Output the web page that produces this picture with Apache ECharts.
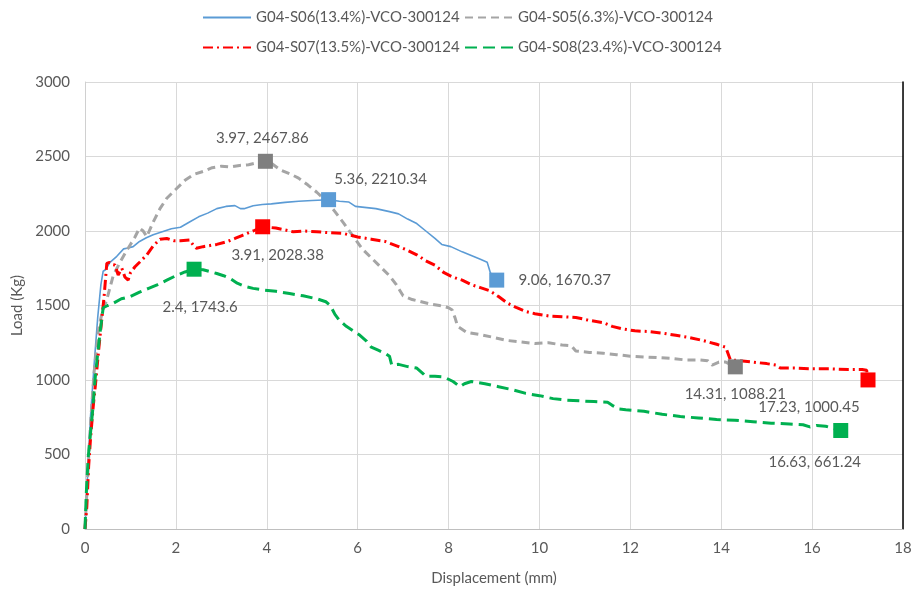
<!DOCTYPE html>
<html>
<head>
<meta charset="utf-8">
<script src="https://cdn.jsdelivr.net/npm/echarts@6/dist/echarts.min.js"></script>
<style>
  html, body { margin: 0; padding: 0; background: #ffffff; }
  #chart { width: 917px; height: 592px; }
</style>
</head>
<body>
<div id="chart"></div>
<script>
// Specimen names
const specimenNames = [
  'G04-S06(13.4%)-VCO-300124',
  'G04-S05(6.3%)-VCO-300124',
  'G04-S07(13.5%)-VCO-300124',
  'G04-S08(23.4%)-VCO-300124'
];

// Axis ticks
const dispTicks = [0, 2, 4, 6, 8, 10, 12, 14, 16, 18];
const loadTicks = [0, 500, 1000, 1500, 2000, 2500, 3000];

// G04-S06 load–displacement curve
const s06Disp = [0, 0.05, 0.12, 0.2, 0.28, 0.35, 0.4, 0.45, 0.55, 0.7, 0.85, 0.95, 1.06, 1.2, 1.35, 1.5, 1.7, 1.9, 2.1, 2.3, 2.5, 2.7, 2.9, 3.1, 3.3, 3.42, 3.5, 3.7, 3.9, 4.1, 4.4, 4.7, 5.0, 5.36, 5.6, 5.8, 5.95, 6.1, 6.4, 6.7, 6.9, 7.1, 7.3, 7.5, 7.7, 7.85, 8.05, 8.3, 8.5, 8.7, 8.85, 8.92, 9.0, 9.06];
const s06Load = [0, 320, 750, 1100, 1420, 1640, 1730, 1740, 1790, 1830, 1880, 1886, 1895, 1930, 1955, 1975, 1995, 2015, 2025, 2060, 2095, 2120, 2150, 2165, 2170, 2150, 2150, 2170, 2178, 2182, 2192, 2200, 2205, 2210, 2200, 2195, 2165, 2160, 2150, 2130, 2115, 2080, 2050, 2000, 1950, 1910, 1895, 1860, 1835, 1810, 1790, 1720, 1680, 1670.37];

// G04-S05 load–displacement curve
const s05Disp = [0, 0.05, 0.12, 0.2, 0.3, 0.4, 0.47, 0.55, 0.62, 0.77, 0.9, 1.0, 1.1, 1.2, 1.28, 1.36, 1.5, 1.65, 1.8, 2.0, 2.2, 2.4, 2.6, 2.8, 3.0, 3.2, 3.4, 3.6, 3.8, 3.97, 4.1, 4.3, 4.5, 4.7, 4.9, 5.1, 5.3, 5.5, 5.7, 5.9, 6.1, 6.3, 6.5, 6.7, 6.85, 7.0, 7.2, 7.4, 7.6, 7.8, 8.0, 8.08, 8.14, 8.2, 8.4, 8.7, 9.0, 9.3, 9.6, 9.9, 10.2, 10.5, 10.7, 10.8, 11.1, 11.4, 11.7, 12.0, 12.3, 12.6, 12.9, 13.2, 13.5, 13.7, 13.8, 13.95, 14.1, 14.31];
const s05Load = [0, 300, 700, 1050, 1350, 1480, 1530, 1620, 1700, 1790, 1860, 1910, 1960, 2020, 2000, 1962, 2060, 2150, 2220, 2280, 2340, 2380, 2400, 2425, 2435, 2430, 2440, 2445, 2460, 2467.86, 2455, 2410, 2385, 2355, 2310, 2260, 2205, 2130, 2050, 1965, 1880, 1820, 1760, 1700, 1640, 1565, 1540, 1525, 1510, 1500, 1485, 1470, 1420, 1360, 1320, 1305, 1285, 1265, 1255, 1245, 1250, 1235, 1230, 1195, 1185, 1180, 1170, 1160, 1155, 1150, 1145, 1135, 1135, 1130, 1100, 1120, 1120, 1088.21];

// G04-S07 load–displacement curve
const s07Disp = [0, 0.04, 0.08, 0.12, 0.18, 0.24, 0.3, 0.36, 0.42, 0.48, 0.54, 0.6, 0.66, 0.73, 0.81, 0.88, 0.95, 1.0, 1.1, 1.2, 1.36, 1.5, 1.65, 1.8, 1.95, 2.1, 2.3, 2.38, 2.45, 2.6, 2.9, 3.12, 3.3, 3.48, 3.7, 3.91, 4.2, 4.58, 4.8, 5.1, 5.4, 5.68, 6.0, 6.3, 6.6, 6.9, 7.1, 7.3, 7.5, 7.7, 7.9, 8.1, 8.3, 8.5, 8.7, 8.9, 9.1, 9.3, 9.5, 9.7, 9.9, 10.2, 10.5, 10.8, 11.1, 11.4, 11.6, 11.8, 12.1, 12.4, 12.7, 13.0, 13.3, 13.6, 13.9, 14.1, 14.2, 14.4, 14.7, 15.0, 15.2, 15.3, 15.6, 16.0, 16.4, 16.8, 17.1, 17.2, 17.23];
const s07Load = [0, 150, 420, 600, 820, 1000, 1200, 1380, 1560, 1783, 1790, 1775, 1772, 1705, 1750, 1690, 1671, 1720, 1760, 1790, 1840, 1900, 1945, 1950, 1935, 1935, 1940, 1906, 1884, 1895, 1910, 1928, 1950, 1973, 2000, 2028.38, 2020, 1995, 2000, 1995, 1988, 1984, 1960, 1945, 1930, 1895, 1870, 1840, 1800, 1770, 1720, 1690, 1670, 1640, 1620, 1600, 1560, 1515, 1485, 1460, 1445, 1430, 1425, 1420, 1400, 1385, 1360, 1345, 1330, 1325, 1315, 1300, 1285, 1265, 1240, 1220, 1135, 1130, 1120, 1110, 1100, 1080, 1080, 1075, 1075, 1070, 1070, 1065, 1000.45];

// G04-S08 load–displacement curve
const s08Disp = [0, 0.03, 0.07, 0.12, 0.17, 0.22, 0.28, 0.34, 0.4, 0.5, 0.62, 0.8, 1.0, 1.2, 1.4, 1.6, 1.8, 2.0, 2.2, 2.4, 2.6, 2.75, 2.9, 3.05, 3.2, 3.35, 3.5, 3.7, 3.9, 4.2, 4.5, 4.8, 5.1, 5.3, 5.4, 5.5, 5.6, 5.75, 5.9, 6.05, 6.2, 6.3, 6.45, 6.6, 6.7, 6.75, 6.9, 7.1, 7.3, 7.45, 7.5, 7.7, 7.9, 8.1, 8.25, 8.35, 8.5, 8.8, 9.1, 9.4, 9.7, 10.0, 10.3, 10.6, 10.9, 11.2, 11.5, 11.6, 11.75, 11.9, 12.3, 12.7, 13.1, 13.5, 13.9, 14.3, 14.7, 15.1, 15.5, 15.8, 15.95, 16.1, 16.3, 16.63];
const s08Load = [0, 250, 480, 640, 800, 1000, 1180, 1340, 1485, 1500, 1515, 1545, 1560, 1590, 1615, 1640, 1670, 1700, 1725, 1743.6, 1740, 1728, 1715, 1700, 1680, 1650, 1630, 1615, 1605, 1595, 1580, 1565, 1545, 1525, 1500, 1440, 1400, 1360, 1330, 1300, 1260, 1220, 1200, 1180, 1160, 1100, 1105, 1090, 1080, 1040, 1025, 1025, 1020, 990, 955, 975, 990, 975, 955, 935, 910, 895, 875, 865, 860, 855, 850, 830, 805, 800, 790, 770, 755, 745, 735, 730, 720, 710, 705, 700, 685, 695, 690, 661.24];

// Highlighted points (peak and final)
const s06MarkDisp = [5.36, 9.06];
const s06MarkLoad = [2210.34, 1670.37];
const s05MarkDisp = [3.97, 14.31];
const s05MarkLoad = [2467.86, 1088.21];
const s07MarkDisp = [3.91, 17.23];
const s07MarkLoad = [2028.38, 1000.45];
const s08MarkDisp = [2.4, 16.63];
const s08MarkLoad = [1743.6, 661.24];

const FONT = 'Lato';
const TEXT = '#595959';

function pairs(xs, ys) { return xs.map((x, i) => [x, ys[i]]); }

const curves = [
  { disp: s06Disp, load: s06Load, color: '#5b9bd5', width: 1.6, type: 'solid' },
  { disp: s05Disp, load: s05Load, color: '#a5a5a5', width: 3, type: [8, 5] },
  { disp: s07Disp, load: s07Load, color: '#ff0000', width: 3, type: [10, 4, 2, 4] },
  { disp: s08Disp, load: s08Load, color: '#00b050', width: 3, type: [12, 6] }
];

const marks = [
  { disp: s06MarkDisp, load: s06MarkLoad, color: '#5b9bd5', offsets: [[52, -21], [68, 0]] },
  { disp: s05MarkDisp, load: s05MarkLoad, color: '#7f7f7f', offsets: [[-3, -23], [0, 27]] },
  { disp: s07MarkDisp, load: s07MarkLoad, color: '#ff0000', offsets: [[15, 28], [-59, 27]] },
  { disp: s08MarkDisp, load: s08MarkLoad, color: '#00b050', offsets: [[6, 38], [-26, 32]] }
];

const series = [];
curves.forEach((c, i) => {
  series.push({
    name: specimenNames[i],
    type: 'line',
    data: pairs(c.disp, c.load),
    symbol: 'none',
    showSymbol: false,
    smooth: false,
    lineStyle: { color: c.color, width: c.width, type: c.type },
    itemStyle: { color: c.color },
    z: 2 + i
  });
});
marks.forEach((m, i) => {
  series.push({
    type: 'scatter',
    symbol: 'rect',
    symbolSize: 15,
    itemStyle: { color: m.color, opacity: 1 },
    z: 10,
    data: pairs(m.disp, m.load).map((p, k) => ({
      value: p,
      label: {
        show: true,
        position: 'inside',
        offset: m.offsets[k],
        formatter: (d) => d.value[0] + ', ' + d.value[1],
        color: TEXT,
        fontFamily: FONT,
        fontSize: 15
      }
    }))
  });
});

const legendSlots = [
  { left: 202, top: 10 }, { left: 464, top: 10 },
  { left: 202, top: 40 }, { left: 464, top: 40 }
];
const legends = specimenNames.map((n, i) => ({
  data: [n],
  left: legendSlots[i].left,
  top: legendSlots[i].top,
  padding: 0,
  itemWidth: 48,
  itemHeight: 14,
  itemGap: 6,
  itemStyle: { opacity: 0 },
  textStyle: { color: TEXT, fontFamily: FONT, fontSize: 15 }
}));

const chart = echarts.init(document.getElementById('chart'), null, { renderer: 'canvas' });
chart.setOption({
  animation: false,
  backgroundColor: '#ffffff',
  legend: legends,
  grid: { left: 85, right: 14, top: 82, bottom: 63 },
  xAxis: {
    type: 'value',
    min: dispTicks[0],
    max: dispTicks[dispTicks.length - 1],
    interval: dispTicks[1] - dispTicks[0],
    name: 'Displacement (mm)',
    nameLocation: 'middle',
    nameGap: 42,
    nameTextStyle: { color: TEXT, fontFamily: FONT, fontSize: 15 },
    axisLine: { show: true, lineStyle: { color: '#bfbfbf', width: 1 } },
    axisTick: { show: false },
    axisLabel: { color: TEXT, fontFamily: FONT, fontSize: 15, margin: 12 },
    splitLine: { show: true, lineStyle: { color: '#d9d9d9', width: 1 } }
  },
  yAxis: [{
    type: 'value',
    min: loadTicks[0],
    max: loadTicks[loadTicks.length - 1],
    interval: loadTicks[1] - loadTicks[0],
    name: 'Load (Kg)',
    nameLocation: 'middle',
    nameGap: 58,
    nameTextStyle: { color: TEXT, fontFamily: FONT, fontSize: 15 },
    axisLine: { show: true, lineStyle: { color: '#d0d0d0', width: 1 } },
    axisTick: { show: false },
    axisLabel: { color: TEXT, fontFamily: FONT, fontSize: 15, margin: 15, formatter: (v) => String(v) },
    splitLine: { show: true, lineStyle: { color: '#d9d9d9', width: 1 } }
  }, {
    type: 'value',
    position: 'right',
    min: loadTicks[0],
    max: loadTicks[loadTicks.length - 1],
    interval: loadTicks[1] - loadTicks[0],
    axisLine: { show: true, lineStyle: { color: '#000000', width: 1.5 } },
    axisTick: { show: false },
    axisLabel: { show: false },
    splitLine: { show: false }
  }],
  series: series
});
</script>
</body>
</html>
